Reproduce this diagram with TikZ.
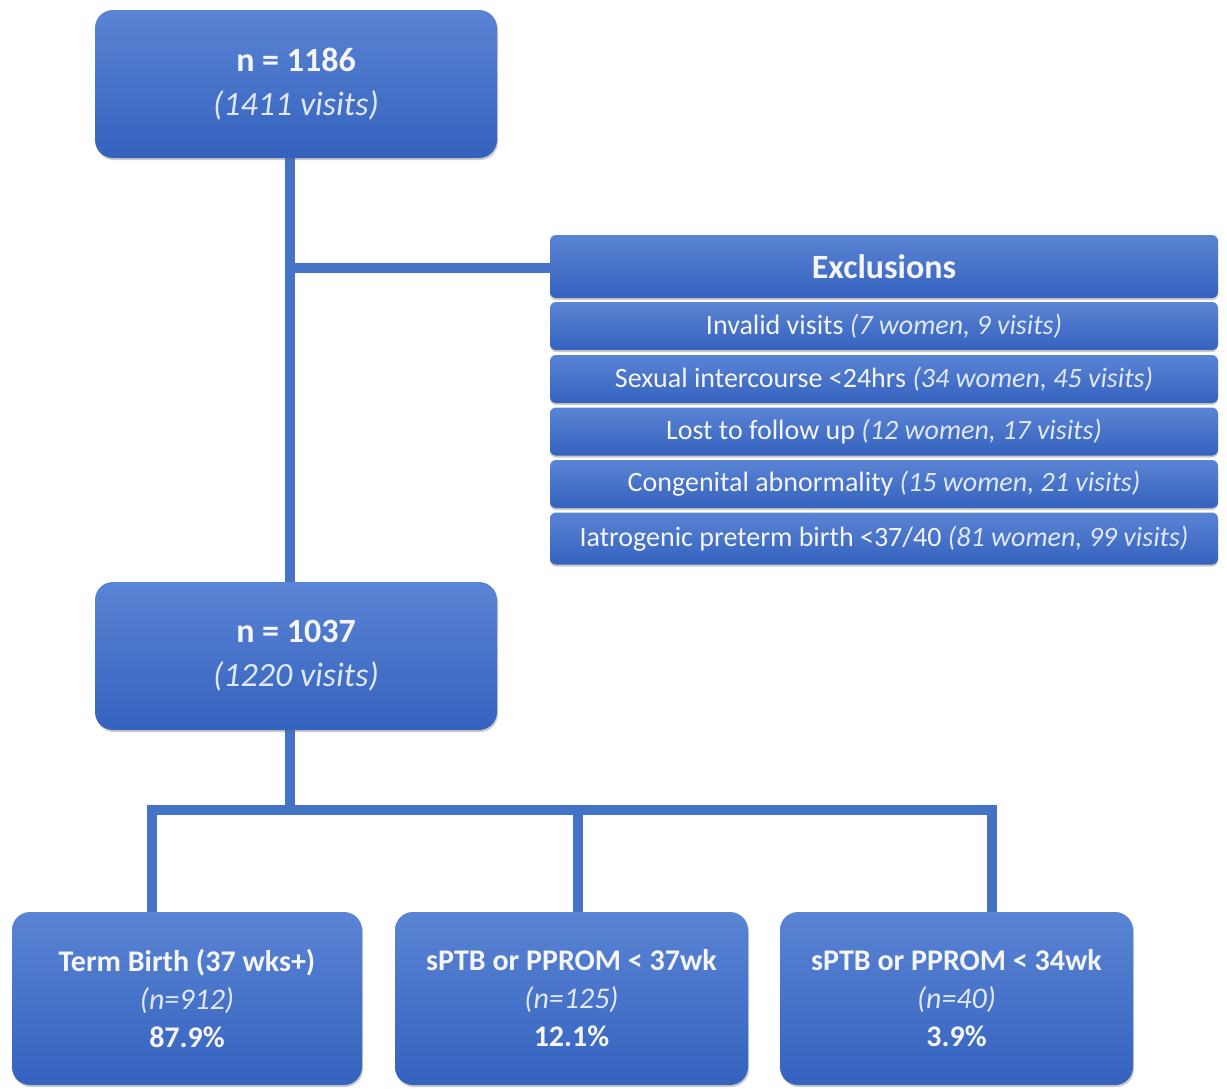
\documentclass[tikz,border=0pt]{standalone}
\usepackage{fontspec}
\setmainfont{Carlito}
\usetikzlibrary{shadows}
\definecolor{bxtop}{RGB}{90,132,212}
\definecolor{bxbot}{RGB}{52,98,190}
\definecolor{linec}{RGB}{68,114,196}
\definecolor{txt}{RGB}{245,245,245}
\definecolor{itx}{RGB}{225,232,245}
\tikzset{
  bx/.style={rounded corners=18pt, top color=bxtop, bottom color=bxbot, draw=none,
    text=txt, align=center, inner sep=0pt,
    drop shadow={shadow xshift=1pt, shadow yshift=-2pt, opacity=0.35, fill=black!60}},
  exb/.style={rounded corners=6pt, top color=bxtop, bottom color=bxbot, draw=none,
    text=txt, align=center, inner sep=0pt, minimum width=668pt,
    drop shadow={shadow xshift=0pt, shadow yshift=-2pt, opacity=0.35, fill=black!60}},
  conn/.style={draw=linec, line width=10pt},
  bigfont/.style={font=\fontsize{34}{44}\selectfont},
  rowfont/.style={font=\fontsize{28}{30}\selectfont},
  botfont/.style={font=\fontsize{30}{38}\selectfont}
}
\newcommand{\itl}[1]{{\color{itx}\itshape #1}}
\begin{document}
\begin{tikzpicture}[x=1pt,y=-1pt]
\useasboundingbox (0,0) rectangle (1227,1088);
% connectors
\coordinate (jx) at (290,268);
\coordinate (hb) at (290,810);
\coordinate (hl) at (152,810);
\coordinate (hm) at (578,810);
\coordinate (hr) at (992,810);
\draw[conn] (290,150) -- (290,590);
\draw[conn] (jx) -- (560,268);
\draw[conn] (290,725) -- (hb);
\draw[conn] (147,810) -- (997,810);
\draw[conn] (hl) -- (152,915);
\draw[conn] (hm) -- (578,915);
\draw[conn] (hr) -- (992,915);
% top boxes
\node[bx, bigfont, minimum width=402pt, minimum height=148pt] (top) at (296,84)
  {\bfseries n = 1186\\ \itl{(1411 visits)}};
\node[bx, bigfont, minimum width=402pt, minimum height=148pt] (mid) at (296,656)
  {\bfseries n = 1037\\ \itl{(1220 visits)}};
% exclusions
\node[exb, minimum height=63pt, font=\fontsize{34}{38}\selectfont\bfseries] (exh) at (884,266.5)
  {Exclusions};
\node[exb, rowfont, minimum height=48pt] (e1) at (884,326)
  {Invalid visits \itl{(7 women, 9 visits)}};
\node[exb, rowfont, minimum height=48pt] (e2) at (884,379)
  {Sexual intercourse <24hrs \itl{(34 women, 45 visits)}};
\node[exb, rowfont, minimum height=48pt] (e3) at (884,431.5)
  {Lost to follow up \itl{(12 women, 17 visits)}};
\node[exb, rowfont, minimum height=48pt] (e4) at (884,484)
  {Congenital abnormality \itl{(15 women, 21 visits)}};
\node[exb, rowfont, minimum height=52pt] (e5) at (884,538.5)
  {Iatrogenic preterm birth <37/40 \itl{(81 women, 99 visits)}};
% bottom boxes
\node[bx, botfont, minimum width=350pt, minimum height=173pt] (b1) at (187,998.5)
  {\bfseries Term Birth (37 wks+)\\ \itl{(n=912)}\\ \bfseries 87.9\%};
\node[bx, botfont, minimum width=353pt, minimum height=173pt] (b2) at (571.5,998.5)
  {\bfseries sPTB or PPROM < 37wk\\ \itl{(n=125)}\\ \bfseries 12.1\%};
\node[bx, botfont, minimum width=353pt, minimum height=173pt] (b3) at (956.5,998.5)
  {\bfseries sPTB or PPROM < 34wk\\ \itl{(n=40)}\\ \bfseries 3.9\%};
\end{tikzpicture}
\end{document}
